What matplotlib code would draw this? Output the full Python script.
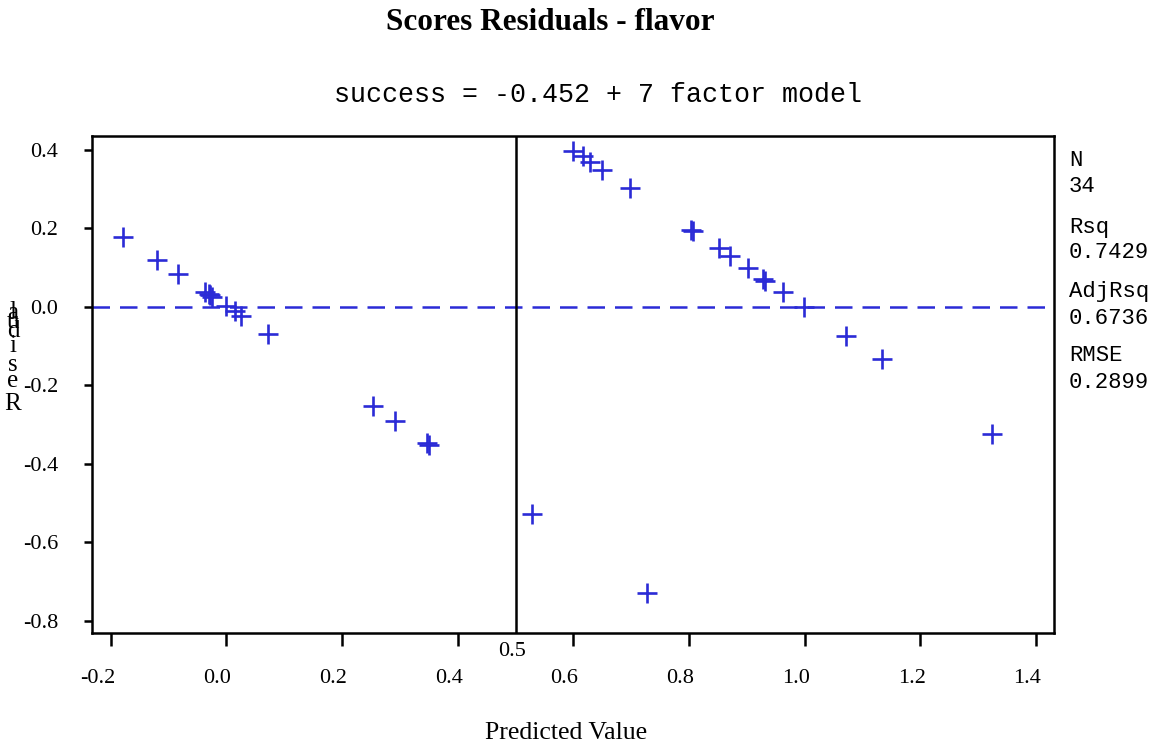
import matplotlib
matplotlib.use("Agg")
import matplotlib.pyplot as plt
import matplotlib.transforms as mtransforms

# ---- data ----
predicted = [-0.178, -0.119, -0.083, -0.037, -0.030, -0.028, -0.024, 0.000, 0.015, 0.025,
             0.072, 0.254, 0.292, 0.347, 0.350, 0.529, 0.727,
             0.600, 0.617, 0.629, 0.650, 0.697, 0.803, 0.806, 0.851, 0.871, 0.901,
             0.928, 0.931, 0.962, 0.999, 1.072, 1.134, 1.324]
residual = [0.177, 0.119, 0.083, 0.038, 0.032, 0.030, 0.026, 0.002, -0.011, -0.024,
            -0.070, -0.253, -0.290, -0.348, -0.352, -0.528, -0.728,
            0.397, 0.384, 0.369, 0.350, 0.303, 0.196, 0.193, 0.149, 0.129, 0.100,
            0.070, 0.066, 0.038, 0.000, -0.075, -0.134, -0.324]
xticks = [-0.2, 0.0, 0.2, 0.4, 0.6, 0.8, 1.0, 1.2, 1.4]
xticklabels = ["-0.2", "0.0", "0.2", "0.4", "0.6", "0.8", "1.0", "1.2", "1.4"]
yticks = [0.4, 0.2, 0.0, -0.2, -0.4, -0.6, -0.8]
yticklabels = ["0.4", "0.2", "0.0", "-0.2", "-0.4", "-0.6", "-0.8"]
stats_labels = ["N", "Rsq", "AdjRsq", "RMSE"]
stats_values = ["34", "0.7429", "0.6736", "0.2899"]
title = "Scores Residuals - flavor"
subtitle = "success = -0.452 + 7 factor model"
xlabel = "Predicted Value"
ylabel_letters = ["l", "a", "u", "d", "i", "s", "e", "R"]
ref_x = 0.5

W, H = 1156, 747
fig = plt.figure(figsize=(W / 100, H / 100), dpi=100)
ax = fig.add_axes([91.7 / W, 1 - 633.3 / H, (1054 - 91.7) / W, (633.3 - 136) / H])

blue = "#2b2bd6"
serif = "Liberation Serif"
mono = "Liberation Mono"

ax.scatter(predicted, residual, marker="+", s=200, color=blue, linewidths=1.9, zorder=3)
ax.axhline(0.0, color=blue, lw=1.8, dashes=(7, 4), zorder=2)
ax.axvline(ref_x, color="black", lw=1.8, zorder=2)

ax.set_xlim(-0.2327, 1.4308)
ax.set_ylim(-0.832, 0.4357)

ax.set_xticks(xticks)
ax.set_xticklabels(xticklabels, fontfamily=serif, fontsize=16, ha="right")
ax.set_yticks(yticks)
ax.set_yticklabels(yticklabels, fontfamily=serif, fontsize=16)
ax.tick_params(axis="x", length=9.5, width=1.8, pad=16.5, direction="out")
ax.tick_params(axis="y", length=6, width=1.8, pad=18, direction="out")
off = mtransforms.ScaledTranslation(5 / 100, 0, fig.dpi_scale_trans)
for lab in ax.get_xticklabels():
    lab.set_transform(lab.get_transform() + off)

for s in ax.spines.values():
    s.set_linewidth(1.8)

# reference line label
ax.text(ref_x, 0, "0.5", transform=mtransforms.blended_transform_factory(ax.transData, ax.transAxes)
        + mtransforms.ScaledTranslation(-3 / 100, -18 / 100, fig.dpi_scale_trans),
        ha="center", va="center", fontfamily=serif, fontsize=16)

fig.text(550 / W, 1 - 22 / H, title, ha="center", va="center",
         fontfamily=serif, fontweight="bold", fontsize=22.5)
fig.text(598 / W, 1 - 95 / H, subtitle, ha="center", va="center",
         fontfamily=mono, fontsize=19.2)
fig.text(566 / W, 1 - 733 / H, xlabel, ha="center", va="center",
         fontfamily=serif, fontsize=18.5)

baselines = [318, 319, 328, 337, 352, 371, 387, 410]
for ch, b in zip(ylabel_letters, baselines):
    fig.text(13 / W, 1 - b / H, ch, ha="center", va="baseline",
             fontfamily=serif, fontsize=18)

ys = [161, 227, 292, 356]
for lab, val, yy in zip(stats_labels, stats_values, ys):
    fig.text(1069 / W, 1 - yy / H, lab, ha="left", va="center", fontfamily=mono, fontsize=16)
    fig.text(1069 / W, 1 - (yy + 26) / H, val, ha="left", va="center", fontfamily=mono, fontsize=16)

fig.savefig("out.png", dpi=100)
